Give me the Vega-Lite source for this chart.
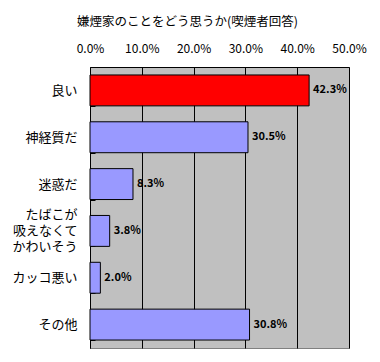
{
  "$schema": "https://vega.github.io/schema/vega-lite/v6.json",
  "autosize": "none",
  "width": 259,
  "height": 281,
  "padding": {"left": 90, "top": 67, "right": 31, "bottom": 14},
  "background": "white",
  "title": {"text": "嫌煙家のことをどう思うか(喫煙者回答)", "anchor": "start", "frame": "group", "dx": -13, "offset": 14, "font": "Noto Sans CJK JP", "fontSize": 12.5, "fontWeight": "normal", "color": "black"},
  "config": {
    "font": "Noto Sans CJK JP",
    "view": {"fill": "#C0C0C0", "stroke": "#808080", "strokeWidth": 1}
  },
  "data": {"values": [
    {"item": "良い", "value": 42.3, "label": "42.3%", "hl": "y"},
    {"item": "神経質だ", "value": 30.5, "label": "30.5%", "hl": "n"},
    {"item": "迷惑だ", "value": 8.3, "label": "8.3%", "hl": "n"},
    {"item": "たばこが吸えなくてかわいそう", "value": 3.8, "label": "3.8%", "hl": "n"},
    {"item": "カッコ悪い", "value": 2.0, "label": "2.0%", "hl": "n"},
    {"item": "その他", "value": 30.8, "label": "30.8%", "hl": "n"}
  ]},
  "encoding": {
    "y": {"field": "item", "type": "nominal", "sort": null,
      "scale": {"paddingInner": 0.34, "paddingOuter": 0.17},
      "axis": {"title": null, "domainColor": "black", "tickColor": "black", "tickBand": "extent", "tickSize": -5, "labelPadding": 18, "labelFontSize": 13, "labelColor": "black", "labelLineHeight": 16,
        "labelOffset": {"condition": {"test": "datum.label == 'たばこが吸えなくてかわいそう'", "value": -16}, "value": 0},
        "labelExpr": "datum.label == 'たばこが吸えなくてかわいそう' ? ['たばこが', '吸えなくて', 'かわいそう'] : datum.label"}},
    "x": {"field": "value", "type": "quantitative",
      "scale": {"domain": [0, 50], "nice": false},
      "axis": {"orient": "top", "title": null, "values": [0, 10, 20, 30, 40, 50], "ticks": false, "domainColor": "black", "gridColor": "black", "gridOpacity": 1, "labelPadding": 12, "labelFontSize": 12, "labelColor": "black", "labelFlush": false,
        "labelExpr": "format(datum.value, '.1f') + '%'"}}
  },
  "layer": [
    {"mark": {"type": "bar", "stroke": "black", "strokeWidth": 1},
     "encoding": {"color": {"field": "hl", "type": "nominal", "scale": {"domain": ["y", "n"], "range": ["#FF0000", "#9999FF"]}, "legend": null}}},
    {"mark": {"type": "text", "align": "left", "dx": 4, "fontSize": 11, "fontWeight": "bold", "color": "black"},
     "encoding": {"text": {"field": "label", "type": "nominal"}}}
  ]
}
